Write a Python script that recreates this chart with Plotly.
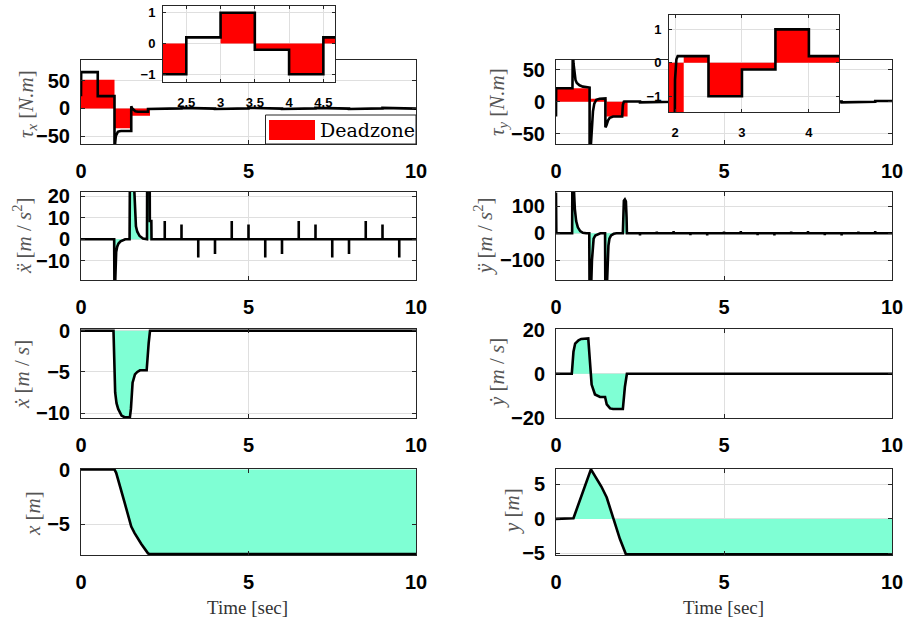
import plotly.graph_objects as go

# ---------------- data ----------------
# time axis ticks
time_ticks = [0, 5, 10]

# tau_x : transient part, then piecewise-constant levels starting at 2.0 s
taux_t = [0.0, 0.005, 0.5, 0.5, 1.0, 1.0, 1.02, 1.04, 1.07, 1.1, 1.15, 1.2, 1.5, 1.5, 1.53, 1.57, 1.62, 1.7, 2.0]
taux_v = [22, 66, 66, 22.5, 22.5, -90, -62, -50, -45, -42.5, -41.5, -41, -41, 4, 0, -3, -5, -6, -6]
taux_step_t = [2.0, 2.5, 3.0, 3.5, 4.0, 4.5, 5.0, 5.5, 6.0, 6.5, 7.0, 7.5, 8.0, 8.5, 9.0, 9.5]
taux_step_v = [-1, 0.2, 1, -0.2, -1, 0.2, 1, -0.2, -1, 0.2, 1, -0.2, -1, 0.2, 1, -0.2]

# deadzone (red) for tau_x : piecewise-constant
dzx_t = [0.0, 1.0, 1.5, 2.06, 2.5, 3.0, 3.5, 4.0, 4.5, 5.0, 5.5, 6.0, 6.5, 7.0, 7.5, 8.0, 8.5, 9.0, 9.5]
dzx_v = [52, -36, -13, -1, 0, 1, -0.2, -1, 0.2, 1, -0.2, -1, 0.2, 1, -0.2, -1, 0.2, 1, -0.2]

# tau_y
tauy_t = [0.0, 0.005, 0.49, 0.5, 0.52, 0.55, 0.58, 0.62, 0.7, 0.8, 0.9, 1.0, 1.0, 1.04, 1.07, 1.1, 1.14,
          1.2, 1.3, 1.47, 1.47, 1.5, 1.55, 1.6, 1.7, 1.97, 1.99, 2.0, 2.02]
tauy_v = [-23, 21, 21, 85, 60, 42, 34, 29, 25.5, 23.5, 22.5, 22, -100, -60, -31, -15, -3,
          3, 4.5, 5, -40, -37, -29, -25, -23, -23, -5, -0.5, 0.1]
tauy_step_t = [2.04, 2.5, 3.0, 3.5, 4.0, 4.5, 5.0, 5.5, 6.0, 6.5, 7.0, 7.5, 8.0, 8.5, 9.0, 9.5]
tauy_step_v = [0.2, -1, -0.2, 1, 0.2, -1, -0.2, 1, 0.2, -1, -0.2, 1, 0.2, -1, -0.2, 1]

dzy_t = [0.0, 1.0, 1.5, 2.13, 2.5, 3.0, 3.5, 4.0, 4.5, 5.0, 5.5, 6.0, 6.5, 7.0, 7.5, 8.0, 8.5, 9.0, 9.5]
dzy_v = [21, 4.5, -23, 0.2, -1, -0.2, 1, 0.2, -1, -0.2, 1, 0.2, -1, -0.2, 1, 0.2, -1, -0.2, 1]

# x acceleration
xdd_t = [0.0, 0.99, 1.0, 1.03, 1.05, 1.08, 1.12, 1.18, 1.25, 1.32, 1.45, 1.46, 1.57, 1.59, 1.61, 1.64,
         1.68, 1.75, 1.85, 1.97, 1.975, 2.05, 2.055, 2.1, 2.105, 2.5]
xdd_v = [0, 0, -30, -15, -6, -3.5, -2, -1, -0.3, 0, 0, 30, 30, 22, 10, 6,
         3.5, 1.5, 0.3, 0, 30, 30, 8.5, 8.5, 0, 0]
spike_t = [2.5, 3.0, 3.5, 4.0, 4.5, 5.0, 5.5, 6.0, 6.5, 7.0, 7.5, 8.0, 8.5, 9.0, 9.5]
xdd_spike_v = [8.5, 6.9, -8.5, -6.9, 8.5, 6.9, -8.5, -6.9, 8.5, 6.9, -8.5, -6.9, 8.5, 6.9, -8.5]

# y acceleration
ydd_t = [0.0, 0.01, 0.48, 0.49, 0.53, 0.56, 0.6, 0.65, 0.72, 0.8, 0.9, 0.99, 1.0, 1.05, 1.07, 1.09,
         1.12, 1.17, 1.25, 1.32, 1.46, 1.47, 1.52, 1.54, 1.56, 1.59, 1.64, 1.72, 1.8, 1.99, 2.0,
         2.02, 2.05, 2.08, 2.1, 2.11, 2.5]
ydd_v = [150, 0, 0, 250, 170, 90, 45, 22, 8, 2, 0, 0, -250, -180, -100, -45,
         -20, -8, -2, 0, 0, -250, -180, -100, -45, -20, -8, -2, 0, 0, 95,
         120, 125, 118, 60, 0, 0]
ydd_spike_v = [-8.5, 6.9, 8.5, -6.9, -8.5, 6.9, 8.5, -6.9, -8.5, 6.9, 8.5, -6.9, -8.5, 6.9, 8.5]

# velocities
xd_t = [0.0, 0.97, 1.02, 1.06, 1.11, 1.16, 1.21, 1.3, 1.46, 1.49, 1.54, 1.61, 1.68, 1.76, 1.96, 2.02, 2.06, 10.0]
xd_v = [0, 0, -7.5, -8.8, -9.5, -10.0, -10.3, -10.5, -10.5, -9.5, -6.3, -5.3, -5.0, -4.8, -4.8, -1.5, 0, 0]
yd_t = [0.0, 0.47, 0.52, 0.57, 0.67, 0.75, 0.96, 1.01, 1.06, 1.16, 1.31, 1.46, 1.51, 1.61, 1.7, 1.99, 2.05, 2.11, 10.0]
yd_v = [0, 0, 10, 13.7, 15.2, 15.8, 16, 4, -4.9, -9.4, -10.5, -10.5, -13.9, -15.7, -16, -16, -6, 0, 0]

# positions
x_t = [0.0, 1.0, 1.05, 1.1, 1.3, 1.5, 1.55, 1.6, 1.8, 2.0, 2.05, 10.0]
x_v = [0, 0, -0.3, -0.8, -3.0, -5.2, -5.5, -5.8, -6.8, -7.65, -7.72, -7.72]
y_t = [0.0, 0.52, 1.04, 1.2, 1.35, 1.51, 1.71, 1.9, 2.08, 10.0]
y_v = [0, 0.1, 7.2, 6.0, 4.7, 3.1, -0.1, -2.9, -5.15, -5.15]

# ---------------- helpers ----------------
W, H = 904, 623
BLACK = "#000000"
AXC = "#262626"
GRID = "#dfdfdf"
GREEN = "#7FFFD4"
RED = "#FF0000"


def steps(starts, levels, end=10.0):
    t, v = [], []
    for i, (s, lv) in enumerate(zip(starts, levels)):
        e = starts[i + 1] if i + 1 < len(starts) else end
        t += [s, e]
        v += [lv, lv]
    return t, v


def spikes(times, vals, end=10.0):
    t, v = [], []
    for s, val in zip(times, vals):
        t += [s, s, s]
        v += [0, val, 0]
    t.append(end)
    v.append(0)
    return t, v


def px_x(a, b):
    return [a / W, b / W]


def px_y(top, bottom):
    return [1 - bottom / H, 1 - top / H]


tx_s, vx_s = steps(taux_step_t, taux_step_v)
taux_all_t, taux_all_v = taux_t + tx_s, taux_v + vx_s
dzx_pt, dzx_pv = steps(dzx_t, dzx_v)
ty_s, vy_s = steps(tauy_step_t, tauy_step_v)
tauy_all_t, tauy_all_v = tauy_t + ty_s, tauy_v + vy_s
dzy_pt, dzy_pv = steps(dzy_t, dzy_v)
sx_t, sx_v = spikes(spike_t, xdd_spike_v)
xdd_all_t, xdd_all_v = xdd_t + sx_t, xdd_v + sx_v
sy_t, sy_v = spikes(spike_t, ydd_spike_v)
ydd_all_t, ydd_all_v = ydd_t + sy_t, ydd_v + sy_v

fig = go.Figure()


def ax(k):
    return ("x" if k == 1 else f"x{k}"), ("y" if k == 1 else f"y{k}")


def add_line(t, v, k, fill=None, width=2.6):
    xa, ya = ax(k)
    fig.add_trace(go.Scatter(x=t, y=v, xaxis=xa, yaxis=ya, mode="lines",
                             line=dict(color=BLACK, width=width),
                             fill=fill, fillcolor=GREEN if fill else None,
                             showlegend=False, hoverinfo="skip"))


def add_red(t, v, k, name="Deadzone"):
    xa, ya = ax(k)
    fig.add_trace(go.Scatter(x=t, y=v, xaxis=xa, yaxis=ya, mode="lines",
                             line=dict(color=RED, width=0), fill="tozeroy",
                             fillcolor=RED, name=name, showlegend=False,
                             hoverinfo="skip"))


# row 1 torques
add_red(dzx_pt, dzx_pv, 1)
add_line(taux_all_t, taux_all_v, 1)
add_red(dzy_pt, dzy_pv, 2)
add_line(tauy_all_t, tauy_all_v, 2)
# row 2 accelerations
add_line(xdd_all_t, xdd_all_v, 3, fill="tozeroy")
add_line(ydd_all_t, ydd_all_v, 4, fill="tozeroy")
# row 3 velocities
add_line(xd_t, xd_v, 5, fill="tozeroy")
add_line(yd_t, yd_v, 6, fill="tozeroy")
# row 4 positions
add_line(x_t, x_v, 7, fill="tozeroy")
add_line(y_t, y_v, 8, fill="tozeroy")
# insets
add_red(dzx_pt, dzx_pv, 9)
add_line(taux_all_t, taux_all_v, 9)
add_red(dzy_pt, dzy_pv, 10)
add_line(tauy_all_t, tauy_all_v, 10)

cols = [(81, 416), (556, 892)]
rows = [(60, 144), (192, 280), (329, 418), (469, 555)]
yranges = [[-64.5, 88], [-66, 65], [-19, 22], [-172, 152], [-10.6, 0.22], [-20.05, 20.3], [-7.8, 0.05], [-5.25, 7.25]]
yticks = [[-50, 0, 50], [-50, 0, 50], [-10, 0, 10, 20], [-100, 0, 100], [-10, -5, 0], [-20, 0, 20], [-5, 0], [-5, 0, 5]]

tickfont = dict(family="Liberation Sans, Arial, sans-serif", size=20, color=BLACK, weight="bold")
insetfont = dict(family="Liberation Sans, Arial, sans-serif", size=13, color=BLACK, weight="bold")

common = dict(showgrid=True, gridcolor=GRID, gridwidth=1, zeroline=False, showline=True,
              linecolor=AXC, linewidth=1, mirror="ticks", ticks="inside", ticklen=4,
              tickcolor=AXC, automargin=False)

layout_axes = {}
for k in range(1, 9):
    r = (k - 1) // 2
    c = (k - 1) % 2
    xa, ya = ax(k)
    xkey = "xaxis" if k == 1 else f"xaxis{k}"
    ykey = "yaxis" if k == 1 else f"yaxis{k}"
    layout_axes[xkey] = dict(common, domain=px_x(*cols[c]), anchor=ya, range=[0, 10],
                             tickvals=time_ticks, tickfont=tickfont, ticklabelstandoff=9)
    layout_axes[ykey] = dict(common, domain=px_y(*rows[r]), anchor=xa, range=yranges[k - 1],
                             tickvals=yticks[k - 1], tickfont=tickfont, ticklabelstandoff=6)

# inset axes
layout_axes["xaxis9"] = dict(common, domain=px_x(163, 335), anchor="y9", range=[2.16, 4.67],
                             tickvals=[2.5, 3, 3.5, 4, 4.5], ticktext=["2.5", "3", "3.5", "4", "4.5"],
                             tickfont=insetfont, ticklabelstandoff=8, ticklen=3)
layout_axes["yaxis9"] = dict(common, domain=px_y(6, 82), anchor="x9", range=[-1.25, 1.22],
                             tickvals=[-1, 0, 1], tickfont=insetfont, ticklabelstandoff=4, ticklen=3)
layout_axes["xaxis10"] = dict(common, domain=px_x(669, 839), anchor="y10", range=[1.91, 4.45],
                              tickvals=[2, 3, 4], tickfont=insetfont, ticklabelstandoff=8, ticklen=3)
layout_axes["yaxis10"] = dict(common, domain=px_y(15, 112), anchor="x10", range=[-1.47, 1.43],
                              tickvals=[-1, 0, 1], tickfont=insetfont, ticklabelstandoff=4, ticklen=3)

# y-axis labels (rotated) and time labels
titlefont = dict(family="Liberation Serif, DejaVu Serif, serif", size=21, color="#555555")
ylabels = [
    ("<i>τ</i><sub><i>x</i></sub> [<i>N.m</i>]", 27, 104),
    ("<i>τ</i><sub><i>y</i></sub> [<i>N.m</i>]", 498, 102),
    ("<i>x\u0308</i> [<i>m</i> / <i>s</i><sup>2</sup>]", 22, 236),
    ("<i>y\u0308</i> [<i>m</i> / <i>s</i><sup>2</sup>]", 483, 236),
    ("<i>x\u0307</i> [<i>m</i> / <i>s</i>]", 22, 375),
    ("<i>y\u0307</i> [<i>m</i> / <i>s</i>]", 497, 373),
    ("<i>x</i> [<i>m</i>]", 33, 514),
    ("<i>y</i> [<i>m</i>]", 512, 511),
]
annotations = []
for txt, px, py in ylabels:
    annotations.append(dict(text=txt, x=px / W, y=1 - py / H, xref="paper", yref="paper",
                            xanchor="center", yanchor="middle", textangle=-90,
                            showarrow=False, font=titlefont))
for px in (248, 723):
    annotations.append(dict(text="Time [sec]", x=px / W, y=1 - 607 / H, xref="paper", yref="paper",
                            xanchor="center", yanchor="middle", showarrow=False,
                            font=dict(family="Liberation Serif, serif", size=19, color="#333333")))
# legend text
annotations.append(dict(text="Deadzone", x=318 / W, y=1 - 130 / H, xref="paper", yref="paper",
                        xanchor="left", yanchor="middle", showarrow=False,
                        font=dict(family="DejaVu Serif, serif", size=19, color=BLACK)))

shapes = [
    dict(type="rect", xref="paper", yref="paper", x0=265.5 / W, x1=416 / W,
         y0=1 - 144 / H, y1=1 - 115 / H, fillcolor="white", line=dict(color=AXC, width=1),
         layer="above"),
    dict(type="rect", xref="paper", yref="paper", x0=269 / W, x1=315 / W,
         y0=1 - 140 / H, y1=1 - 120 / H, fillcolor=RED, line=dict(width=0), layer="above"),
]

fig.update_layout(width=W, height=H, margin=dict(l=0, r=0, t=0, b=0, pad=0),
                  paper_bgcolor="white", plot_bgcolor="white", showlegend=False,
                  annotations=annotations, shapes=shapes, **layout_axes)

fig.write_html("out.html")
